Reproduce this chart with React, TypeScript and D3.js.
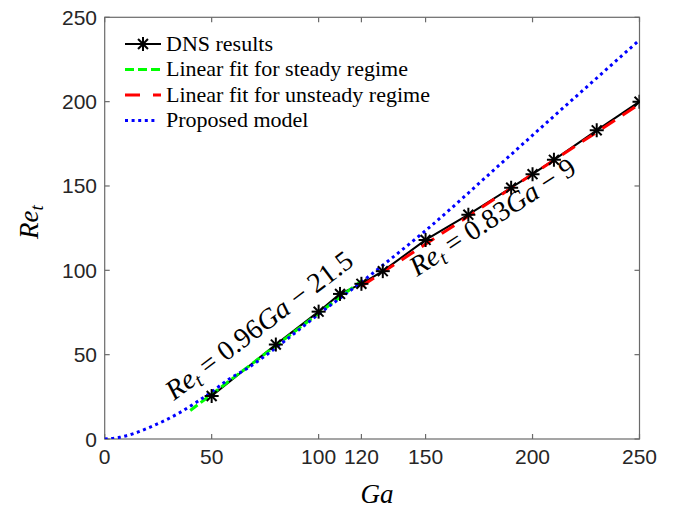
import React from "react";
import * as d3 from "d3";

// DNS results
const dnsGa = [50, 80, 100, 110, 120, 130, 150, 170, 190, 200, 210, 230, 250];
const dnsRe = [25.5, 56, 75.5, 86, 92, 99.5, 118, 133, 149, 157, 165.5, 183, 200];

// Linear fit, steady regime (end points)
const steadyGa = [40, 120];
const steadyRe = [16.9, 93.7];

// Linear fit, unsteady regime (end points)
const unsteadyGa = [120, 250];
const unsteadyRe = [90.6, 198.5];

// Proposed model
const modelGa = [0, 7, 14, 21, 28, 35, 42, 49, 57, 68, 82, 100, 120, 130, 149, 185, 207, 250];
const modelRe = [0, 1, 3.4, 6.9, 10.9, 15.6, 21.1, 27, 34.5, 43, 56, 74, 93, 103, 122.5, 163, 188, 236.5];

const xTicks = [0, 50, 100, 120, 150, 200, 250];
const yTicks = [0, 50, 100, 150, 200, 250];

const legendLabels = [
  "DNS results",
  "Linear fit for steady regime",
  "Linear fit for unsteady regime",
  "Proposed model",
];

const W = 673;
const H = 508;
const L = 104.7;
const R = 639.5;
const T = 17.3;
const B = 439;

const AXIS = "#6a6a6a";
const TXT = "#262626";

function Asterisk({ x, y, r = 7 }: { x: number; y: number; r?: number }) {
  const d = r * 0.7071;
  return (
    <g stroke="#000" strokeWidth={2}>
      <line x1={x - r} y1={y} x2={x + r} y2={y} />
      <line x1={x} y1={y - r} x2={x} y2={y + r} />
      <line x1={x - d} y1={y - d} x2={x + d} y2={y + d} />
      <line x1={x - d} y1={y + d} x2={x + d} y2={y - d} />
    </g>
  );
}

export default function App() {
  const x = d3.scaleLinear().domain([0, 250]).range([L, R]);
  const y = d3.scaleLinear().domain([0, 250]).range([B, T]);

  const line = d3
    .line<[number, number]>()
    .x((d) => x(d[0]))
    .y((d) => y(d[1]));
  const smooth = d3
    .line<[number, number]>()
    .x((d) => x(d[0]))
    .y((d) => y(d[1]))
    .curve(d3.curveMonotoneX);

  const dns = dnsGa.map((g, i) => [g, dnsRe[i]] as [number, number]);
  const steady = steadyGa.map((g, i) => [g, steadyRe[i]] as [number, number]);
  const unsteady = unsteadyGa.map((g, i) => [g, unsteadyRe[i]] as [number, number]);
  const model = modelGa.map((g, i) => [g, modelRe[i]] as [number, number]);

  const tickLen = 5;
  const legX1 = 125;
  const legX2 = 161;
  const legText = 166;
  const legBase = [50.5, 76, 101.5, 127];

  const ang1 = -37;
  const ang2 = -33;

  const serif = { fontFamily: '"Liberation Serif"' } as React.CSSProperties;
  const sans = { fontFamily: '"Liberation Sans"' } as React.CSSProperties;

  return (
    <svg
      width={W}
      height={H}
      style={{ position: "absolute", left: 0, top: 0, background: "#fff" }}
    >
      <rect x={0} y={0} width={W} height={H} fill="#fff" />
      <defs>
        <clipPath id="plot">
          <rect x={L} y={T} width={R - L} height={B - T} />
        </clipPath>
      </defs>

      {/* axes box */}
      <rect x={L} y={T} width={R - L} height={B - T} fill="none" stroke={AXIS} strokeWidth={1.2} />
      {xTicks.map((t) => (
        <g key={"xt" + t} stroke={AXIS} strokeWidth={1.2}>
          <line x1={x(t)} x2={x(t)} y1={B} y2={B - tickLen} />
          <line x1={x(t)} x2={x(t)} y1={T} y2={T + tickLen} />
        </g>
      ))}
      {yTicks.map((t) => (
        <g key={"yt" + t} stroke={AXIS} strokeWidth={1.2}>
          <line x1={L} x2={L + tickLen} y1={y(t)} y2={y(t)} />
          <line x1={R} x2={R - tickLen} y1={y(t)} y2={y(t)} />
        </g>
      ))}
      {xTicks.map((t) => (
        <text
          key={"xl" + t}
          x={x(t)}
          y={463.5}
          textAnchor="middle"
          style={sans}
          fontSize={21}
          fill={TXT}
        >
          {t}
        </text>
      ))}
      {yTicks.map((t) => (
        <text
          key={"yl" + t}
          x={97}
          y={y(t) + 7.5}
          textAnchor="end"
          style={sans}
          fontSize={21}
          fill={TXT}
        >
          {t}
        </text>
      ))}

      {/* axis labels */}
      <text x={377} y={503} textAnchor="middle" style={serif} fontStyle="italic" fontSize={27} fill="#000">
        Ga
      </text>
      <text
        transform={`translate(38,222) rotate(-90)`}
        textAnchor="middle"
        style={serif}
        fontSize={27}
        fill="#000"
      >
        <tspan fontStyle="italic">Re</tspan>
        <tspan fontStyle="italic" fontSize={19} dy={5}>t</tspan>
      </text>

      {/* series */}
      <g clipPath="url(#plot)">
        <path d={line(dns) || ""} fill="none" stroke="#000" strokeWidth={2} />
        <path d={line(steady) || ""} fill="none" stroke="#00ff00" strokeWidth={3} strokeDasharray="9,4" />
        <path d={line(unsteady) || ""} fill="none" stroke="#ff0000" strokeWidth={3} strokeDasharray="15,9" />
        <path d={smooth(model) || ""} fill="none" stroke="#0000ff" strokeWidth={3} strokeDasharray="3,3.6" />
        {dns.map((d, i) => (
          <Asterisk key={"m" + i} x={x(d[0])} y={y(d[1])} />
        ))}
      </g>

      {/* annotations */}
      <text
        transform={`translate(174,401) rotate(${ang1})`}
        style={serif}
        fontSize={28}
        fill="#000"
      >
        <tspan fontStyle="italic">Re</tspan>
        <tspan fontStyle="italic" fontSize={20} dy={5}>t</tspan>
        <tspan dy={-5}> = 0.96</tspan>
        <tspan fontStyle="italic">Ga</tspan>
        <tspan> − 21.5</tspan>
      </text>
      <text
        transform={`translate(417,277) rotate(${ang2})`}
        style={serif}
        fontSize={28}
        fill="#000"
      >
        <tspan fontStyle="italic">Re</tspan>
        <tspan fontStyle="italic" fontSize={20} dy={5}>t</tspan>
        <tspan dy={-5}> = 0.83</tspan>
        <tspan fontStyle="italic">Ga</tspan>
        <tspan> − 9</tspan>
      </text>

      {/* legend */}
      <g>
        <line x1={legX1} x2={legX2} y1={legBase[0] - 6.5} y2={legBase[0] - 6.5} stroke="#000" strokeWidth={2} />
        <Asterisk x={(legX1 + legX2) / 2} y={legBase[0] - 6.5} />
        <line x1={legX1} x2={legX2} y1={legBase[1] - 6.5} y2={legBase[1] - 6.5} stroke="#00ff00" strokeWidth={3} strokeDasharray="9,4" />
        <line x1={legX1} x2={legX2} y1={legBase[2] - 6.5} y2={legBase[2] - 6.5} stroke="#ff0000" strokeWidth={3} strokeDasharray="15,13" />
        <line x1={legX1} x2={legX2 - 3} y1={legBase[3] - 6.5} y2={legBase[3] - 6.5} stroke="#0000ff" strokeWidth={3} strokeDasharray="3,3.6" />
        {legendLabels.map((s, i) => (
          <text key={"lg" + i} x={legText} y={legBase[i]} style={serif} fontSize={22} fill="#000">
            {s}
          </text>
        ))}
      </g>
    </svg>
  );
}
